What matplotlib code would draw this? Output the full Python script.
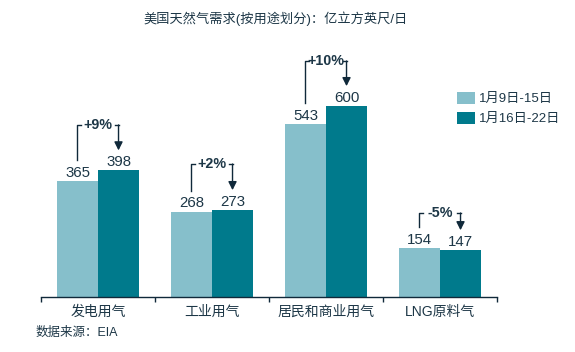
import matplotlib
matplotlib.use("Agg")
import matplotlib.pyplot as plt
import numpy as np

categories = ["发电用气", "工业用气", "居民和商业用气", "LNG原料气"]
week1 = [365, 268, 543, 154]
week2 = [398, 273, 600, 147]
pct_labels = ["+9%", "+2%", "+10%", "-5%"]
annot_levels = [541, 418, 742, 264]
series_names = ["1月9日-15日", "1月16日-22日"]
title = "美国天然气需求(按用途划分)：亿立方英尺/日"
source = "数据来源：EIA"

plt.rcParams['font.family'] = ['Liberation Sans', 'Noto Sans CJK SC', 'DejaVu Sans']

c_light = "#86BFCB"
c_dark = "#007A8C"
c_text = "#1d3747"
c_line = "#10293a"

fig = plt.figure(figsize=(5.75, 3.52), dpi=100)
ax = fig.add_axes([41/575, 1-297/352, 456/575, 257/352])

x = np.arange(len(categories))
w = 0.36
b1 = ax.bar(x - w/2, week1, width=w, color=c_light, label=series_names[0])
b2 = ax.bar(x + w/2, week2, width=w, color=c_dark, label=series_names[1])

ax.set_xlim(-0.5, len(categories) - 0.5)
ax.set_ylim(0, 808)

for xi, v in zip(x - w/2, week1):
    ax.annotate(str(v), (xi, v), xytext=(0, 1.0), textcoords='offset points',
                ha='center', va='bottom', fontsize=10.8, color=c_text)
for xi, v in zip(x + w/2, week2):
    ax.annotate(str(v), (xi, v), xytext=(0, 1.0), textcoords='offset points',
                ha='center', va='bottom', fontsize=10.8, color=c_text)

# px per data unit
ppu = (257/808)
off_left = 21 / ppu
off_tip = 20 / ppu
stub = 0.03
for i, (a, b, lab, lvl) in enumerate(zip(week1, week2, pct_labels, annot_levels)):
    xl = i - w/2
    xr = i + w/2
    ax.plot([xl, xl, xl + stub], [a + off_left, lvl, lvl], color=c_line, lw=1)
    ax.plot([xr - stub, xr], [lvl, lvl], color=c_line, lw=1)
    ax.annotate('', xy=(xr, b + off_tip), xytext=(xr, lvl),
                arrowprops=dict(arrowstyle='-|>,head_length=0.5,head_width=0.25',
                                color=c_line, lw=1, shrinkA=0, shrinkB=0,
                                mutation_scale=10))
    ax.text(i, lvl, lab, ha='center', va='center', fontsize=10.3,
            fontweight='bold', color=c_text)

for s in ['left', 'top', 'right']:
    ax.spines[s].set_visible(False)
ax.spines['bottom'].set_color(c_line)
ax.spines['bottom'].set_linewidth(1)
ax.set_yticks([])
ax.set_xticks(x)
ax.set_xticklabels(categories, fontsize=10, color=c_text)
ax.tick_params(axis='x', which='major', length=0, pad=5.5)
ax.set_xticks(np.arange(-0.5, len(categories)), minor=True)
ax.tick_params(axis='x', which='minor', length=3.5, width=1, color=c_line, direction='out')

fig.text(276/575, 1-18.5/352, title, ha='center', va='center', fontsize=9.5, color=c_text)
fig.text(36/575, 1-333/352, source, ha='left', va='center', fontsize=9, color=c_text)

fig.legend(handles=[b1, b2], labels=series_names, loc='upper left',
           bbox_to_anchor=(457/575, 1-91.5/352), frameon=False,
           fontsize=9.5, handlelength=1.35, handleheight=1.05,
           handletextpad=0.35, labelspacing=0.5, borderpad=0, borderaxespad=0,
           labelcolor=c_text)

fig.savefig("out.png", dpi=100)
